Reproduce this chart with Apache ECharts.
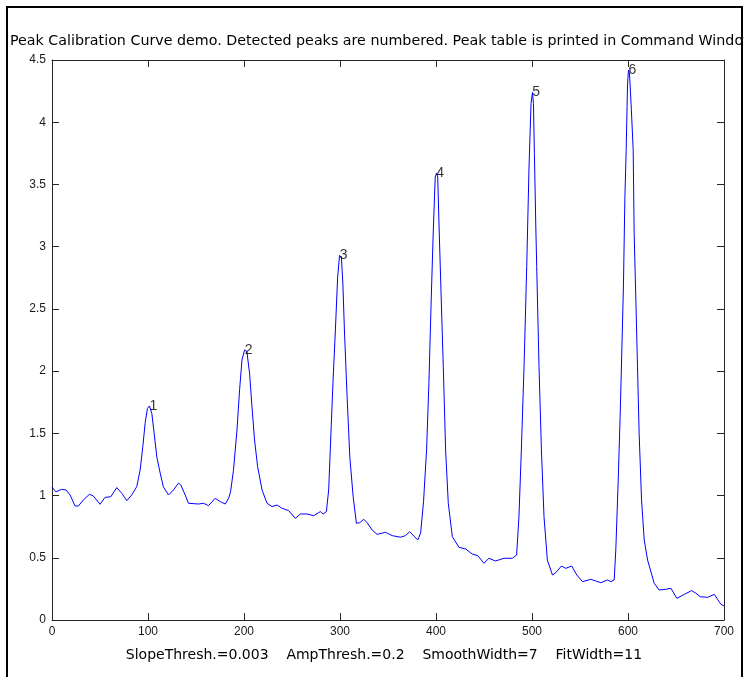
<!DOCTYPE html>
<html>
<head>
<meta charset="utf-8">
<script src="https://cdn.jsdelivr.net/npm/echarts@6/dist/echarts.min.js"></script>
<style>
html,body{margin:0;padding:0;background:#fff;}
#chart{width:744px;height:677px;}
</style>
</head>
<body>
<div id="chart"></div>
<script>
// Signal trace (x, y)
var signalX = [0,4,10,14.6,18.8,24,27.5,32.7,39,43,50,55.3,61.2,67.5,72.7,77.9,83.1,88.3,91.8,94.6,97,99.4,101.5,104,106.4,109.2,112.7,116,121.4,126.5,131.8,134.2,138.7,142.2,152.6,157.8,163,170,175.3,180.5,184,186,189,192.7,195.4,197.9,200.6,203,205.8,208.3,211,214.2,218.8,224,229.2,234.4,239.6,246.5,253.5,258.7,265.7,272.6,279.6,282.4,285.8,288.2,290.7,292.8,295.2,297.5,299.5,301.5,303,304.6,307.4,310.2,313.7,317.1,320.6,324.8,328.3,333.5,338.7,347.4,354.4,363,368.2,372.7,376.9,381.1,384,387,390.2,392.6,395,397.1,399.2,400.5,401.8,403.4,405.5,407.6,410,412.8,417,423.9,430.8,437.8,443.6,449.9,455.1,462.1,470.8,479.5,484,486.4,488.9,491.7,494.5,496.9,499,500.5,501.5,502.5,504,504.9,507.3,509.8,512.5,516,521.3,524.7,530.7,535.2,541.4,546.6,552.6,561.2,571.7,578.7,582.1,585.6,587.3,589.7,591.8,593.6,595.3,596.7,598.1,599.5,600.5,601.5,603.5,605.4,606.4,608.2,609.9,611.6,614.1,616.9,620.4,627.3,632.5,639.5,644.7,650.9,658.6,666.3,670.8,675.2,682.9,689.9,693.3,696.8,700];
var signalY = [1.067,1.03,1.05,1.045,1.005,0.916,0.916,0.965,1.01,0.997,0.93,0.986,0.99,1.064,1.018,0.959,1.005,1.072,1.206,1.393,1.58,1.70,1.72,1.66,1.50,1.31,1.18,1.07,1.005,1.045,1.10,1.085,1.005,0.938,0.932,0.938,0.919,0.978,0.951,0.932,0.978,1.03,1.2,1.527,1.85,2.09,2.17,2.157,1.983,1.715,1.447,1.232,1.045,0.938,0.911,0.924,0.898,0.879,0.817,0.852,0.852,0.838,0.871,0.852,0.871,1.045,1.527,1.93,2.33,2.75,2.93,2.91,2.7,2.33,1.795,1.313,0.991,0.777,0.782,0.809,0.782,0.723,0.688,0.705,0.678,0.665,0.678,0.71,0.675,0.643,0.70,0.95,1.367,1.90,2.57,3.11,3.56,3.59,3.56,3.11,2.57,2.036,1.367,0.938,0.67,0.584,0.571,0.53,0.517,0.456,0.496,0.474,0.496,0.496,0.522,0.83,1.367,2.036,2.84,3.64,4.15,4.24,4.15,3.75,3.15,2.84,2.036,1.367,0.83,0.482,0.362,0.38,0.434,0.415,0.434,0.362,0.308,0.327,0.30,0.322,0.308,0.322,0.563,1.099,1.634,2.17,2.707,3.376,3.78,4.3,4.42,4.4,4.1,3.78,3.11,2.57,2.036,1.50,0.965,0.643,0.482,0.295,0.241,0.247,0.255,0.174,0.206,0.236,0.215,0.187,0.182,0.206,0.166,0.126,0.113];

// Detected peaks
var peakX = [101.5,200.6,299.8,400.3,500.2,600.4];
var peakY = [1.72,2.17,2.93,3.59,4.24,4.42];
var peakLabels = ['1','2','3','4','5','6'];

var titleText = 'Peak Calibration Curve demo. Detected peaks are numbered. Peak table is printed in Command Window';
var footerText = 'SlopeThresh.=0.003    AmpThresh.=0.2    SmoothWidth=7    FitWidth=11';

var signal = signalX.map(function(x,i){return [x, signalY[i]];});
var peaks = peakX.map(function(x,i){return {value:[x, peakY[i]], label:{formatter: peakLabels[i]}};});

var FONT = 'Liberation Sans, Arial, sans-serif';
var WIDE = 'DejaVu Sans, sans-serif';
var chart = echarts.init(document.getElementById('chart'), null, {renderer:'canvas'});
var axisLineStyle = {color:'#262626', width:1};
chart.setOption({
  animation:false,
  backgroundColor:'#ffffff',
  title:{text:titleText, left:5, top:29, textStyle:{fontFamily:WIDE, fontSize:14.25, fontWeight:'normal', color:'#000'}},
  grid:{left:52, right:20, top:60, bottom:57, containLabel:false},
  xAxis:[
    {type:'value', min:0, max:700, interval:100, position:'bottom',
     axisLine:{show:true, lineStyle:axisLineStyle},
     axisTick:{show:true, inside:true, length:7, lineStyle:axisLineStyle},
     axisLabel:{margin:6, fontFamily:FONT, fontSize:12, color:'#1a1a1a'},
     splitLine:{show:false}},
    {type:'value', min:0, max:700, interval:100, position:'top',
     axisLine:{show:true, onZero:false, lineStyle:axisLineStyle},
     axisTick:{show:true, inside:true, length:7, lineStyle:axisLineStyle},
     axisLabel:{show:false}, splitLine:{show:false}}
  ],
  yAxis:[
    {type:'value', min:0, max:4.5, interval:0.5, position:'left',
     axisLine:{show:true, lineStyle:axisLineStyle},
     axisTick:{show:true, inside:true, length:7, lineStyle:axisLineStyle},
     axisLabel:{margin:6, fontFamily:FONT, fontSize:12, color:'#1a1a1a'},
     splitLine:{show:false}},
    {type:'value', min:0, max:4.5, interval:0.5, position:'right',
     axisLine:{show:true, onZero:false, lineStyle:axisLineStyle},
     axisTick:{show:true, inside:true, length:7, lineStyle:axisLineStyle},
     axisLabel:{show:false}, splitLine:{show:false}}
  ],
  series:[
    {type:'line', xAxisIndex:0, yAxisIndex:0, data:signal, showSymbol:false, symbol:'none',
     lineStyle:{color:'#0000ff', width:1}, z:3},
    {type:'scatter', xAxisIndex:0, yAxisIndex:0, data:peaks, symbolSize:0.1,
     itemStyle:{color:'rgba(0,0,0,0)'},
     label:{show:true, position:'right', distance:0, fontFamily:FONT, fontSize:14, color:'#000'}, z:4}
  ],
  graphic:[
    {type:'text', x:384, y:655, style:{text:footerText, fontFamily:WIDE, fontSize:14, fill:'#000', textAlign:'center', textVerticalAlign:'middle'}},
    {type:'rect', shape:{x:7, y:7, width:735, height:700}, style:{fill:'none', stroke:'#000', lineWidth:2}, silent:true}
  ]
});
</script>
</body>
</html>
